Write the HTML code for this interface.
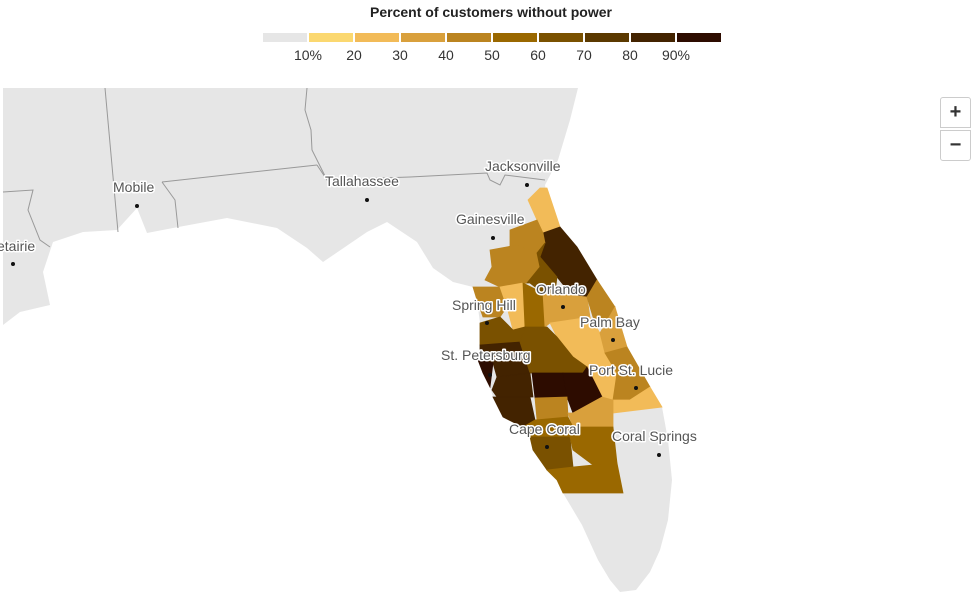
<!DOCTYPE html>
<html><head><meta charset="utf-8">
<style>
html,body{margin:0;padding:0;background:#fff;}
body{width:980px;height:609px;overflow:hidden;position:relative;font-family:"Liberation Sans",sans-serif;}
svg{position:absolute;left:0;top:0;}
.lbl{font-family:"Liberation Sans",sans-serif;font-size:14px;fill:#555;stroke:#fff;stroke-width:3px;paint-order:stroke;stroke-linejoin:round;}
.zb{position:absolute;left:940px;width:31px;height:31px;background:#fff;border:1px solid #ccc;display:flex;align-items:center;justify-content:center;font-size:20px;font-weight:bold;color:#333;box-sizing:border-box;}
</style></head>
<body>
<svg id="map" width="980" height="609">
  <text x="491" y="17" text-anchor="middle" font-size="14" font-weight="bold" fill="#222">Percent of customers without power</text>
  <g id="legend"></g>
  <polygon fill="#e6e6e6" points="3,88 578,88 570,120 558,160 545,185 548,200 560,227 577,247 597,280 615,307 627,347 650,387 662,407 668,440 672,480 668,520 660,550 650,572 636,590 620,592 610,580 598,560 582,525 563,493 557,480 547,470 533,450 530,437 523,427 503,417 493,397 490,387 478,360 480,345 480,323 477,300 473,287 453,282 433,268 417,242 387,222 367,232 323,262 307,248 277,228 227,218 173,228 147,233 137,208 117,230 83,232 53,242 43,272 50,305 20,312 3,325"/>
  <g fill="none" stroke="#999" stroke-width="1">
    <polyline points="3,192 33,190 28,210 40,240 50,247"/>
    <polyline points="105,88 118,232"/>
    <polyline points="162,182 317,165"/>
    <polyline points="162,182 175,200 178,228"/>
    <polyline points="307,88 305,110 311,130 312,150 327,180"/>
    <polyline points="317,165 327,180 410,177 487,173 490,180 500,185 505,175 545,180"/>
  </g>
  <g id="counties"></g>
  <g id="cities"></g>
</svg>
<div class="zb" style="top:97px;border-radius:3px 3px 0 0">+</div>
<div class="zb" style="top:130px;border-radius:0 0 3px 3px">−</div>
<script>
const binLabels = ["10%","20","30","40","50","60","70","80","90%"];
const binColors = ["#e6e6e6","#fbd870","#f2bb58","#d9a03c","#bb8420","#9a6800","#7a5100","#5b3900","#432300","#2d0c00"];
const countyNames = ["st-johns","volusia","putnam","marion","lake","citrus","sumter","lake-south","orange","brevard-north","osceola","brevard-south","st-lucie","martin","pasco","hillsborough","polk","pinellas","manatee","hardee","highlands","sarasota","desoto","okeechobee","charlotte","lee","hendry","collier"];
const countyValues = [25,85,45,45,65,42,28,58,35,40,25,38,42,25,60,85,60,92,82,95,95,80,48,38,58,60,52,55];
const countyShapes = [
"540,188 547,188 560,227 543,233 537,220 528,200",
"543,233 560,227 577,247 597,280 587,297 570,293 557,277 540,257 545,243",
"510,230 537,220 543,233 545,243 537,253 517,247 510,247",
"490,250 517,245 537,253 540,267 527,283 500,287 485,280 492,267",
"537,253 545,243 540,257 557,277 555,293 543,293 530,283 527,283 540,267",
"473,287 500,287 507,307 500,317 483,317 477,300",
"500,287 523,283 525,327 513,330 507,307",
"523,283 543,293 545,327 525,327",
"543,293 587,297 590,317 550,323 545,327",
"587,297 597,280 615,307 603,327 593,317",
"550,323 590,317 600,333 605,353 617,373 613,400 602,397 587,367 573,357 557,337",
"600,333 615,307 627,347 605,353",
"605,353 627,347 650,387 630,400 613,400 617,373",
"613,413 613,400 630,400 650,387 662,407",
"480,323 500,317 513,330 525,327 520,342 480,345",
"480,345 520,342 530,373 497,377 493,363 480,360",
"525,327 547,327 557,337 573,357 587,367 583,373 530,373 520,342",
"478,360 493,363 490,387 483,373",
"497,377 530,373 533,397 497,397 492,390",
"532,373 563,373 567,397 535,398",
"563,373 583,373 587,367 602,397 573,413 567,397",
"493,397 530,397 535,420 523,427 503,417",
"535,398 567,397 568,417 537,420",
"568,413 573,413 602,397 613,400 613,427 573,427",
"535,420 568,417 573,427 570,437 530,437 523,427",
"530,437 570,437 573,467 547,470 533,450",
"570,427 613,427 617,463 593,465 573,450 570,437",
"547,470 573,467 593,465 617,463 623,493 563,493 557,480"
];
const cityNames = ["Jacksonville","Mobile","Tallahassee","Gainesville","etairie","Orlando","Spring Hill","Palm Bay","St. Petersburg","Port St. Lucie","Cape Coral","Coral Springs"];
const cityDots = [[527,185],[137,206],[367,200],[493,238],[13,264],[563,307],[487,323],[613,340],[490,375],[636,388],[547,447],[659,455]];
const cityLabels = [[485,171],[113,192],[325,186],[456,224],[-3,251],[536,294],[452,310],[580,327],[441,360],[589,375],[509,434],[612,441]];

const NS="http://www.w3.org/2000/svg";
function colorFor(v){ let i=Math.min(9,Math.max(0,Math.floor(v/10))); return binColors[i]; }
const lg=document.getElementById('legend');
const lx0=263, lw=46;
binColors.forEach((c,i)=>{
  const r=document.createElementNS(NS,'rect');
  r.setAttribute('x',lx0+i*lw);r.setAttribute('y',33);r.setAttribute('width',lw-2);r.setAttribute('height',9);r.setAttribute('fill',c);
  
  
  lg.appendChild(r);
});
binLabels.forEach((t,i)=>{
  const tx=document.createElementNS(NS,'text');
  tx.setAttribute('x',lx0+(i+1)*lw-1);tx.setAttribute('y',60);tx.setAttribute('text-anchor','middle');
  tx.setAttribute('font-size','14');tx.setAttribute('fill','#333');tx.textContent=t;
  
  
  lg.appendChild(tx);
});
const cg=document.getElementById('counties');
countyShapes.forEach((pts,i)=>{
  const p=document.createElementNS(NS,'polygon');
  p.setAttribute('points',pts);p.setAttribute('fill',colorFor(countyValues[i]));
  p.setAttribute('stroke',colorFor(countyValues[i]));p.setAttribute('stroke-width','0.8');
  
  
  cg.appendChild(p);
});
const ct=document.getElementById('cities');
cityNames.forEach((n,i)=>{
  const d=document.createElementNS(NS,'circle');
  d.setAttribute('cx',cityDots[i][0]);d.setAttribute('cy',cityDots[i][1]);d.setAttribute('r',2);d.setAttribute('fill','#111');
  
  
  ct.appendChild(d);
  const t=document.createElementNS(NS,'text');
  t.setAttribute('x',cityLabels[i][0]);t.setAttribute('y',cityLabels[i][1]);t.setAttribute('class','lbl');t.textContent=n;
  
  
  ct.appendChild(t);
});
</script>
</body></html>
